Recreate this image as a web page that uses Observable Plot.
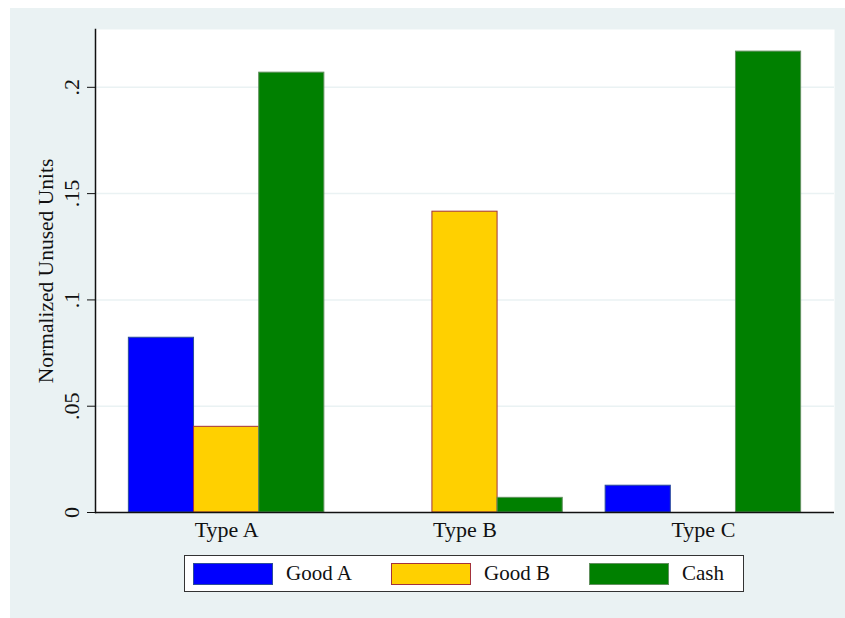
<!DOCTYPE html>
<html>
<head>
<meta charset="utf-8">
<script src="https://cdn.jsdelivr.net/npm/d3@7"></script>
<script src="https://cdn.jsdelivr.net/npm/@observablehq/plot@0.6"></script>
<style>
  html, body { margin: 0; padding: 0; background: #ffffff; }
  #wrap { position: relative; width: 845px; height: 618px; overflow: hidden; font-family: "Liberation Serif", "Times New Roman", serif; }
  #bg { position: absolute; left: 10px; top: 8px; right: 0; bottom: 0; background: #EAF2F3; }
  #chart { position: absolute; left: 0; top: 0; }
  #legend { position: absolute; left: 184px; top: 555px; width: 550px; height: 35px; background: #fff; border: 1.5px solid #333; display: flex; align-items: center; padding-left: 8px; box-sizing: content-box; }
  .item { display: flex; align-items: center; width: 198px; flex: none; }
  .sw { width: 80px; height: 22px; box-sizing: border-box; border: 1px solid; margin-right: 13px; flex: none; }
  .lab { font-size: 21px; color: #111; white-space: nowrap; }
  .item:last-child { width: auto; }
</style>
</head>
<body>
<div id="wrap">
  <div id="bg"></div>
  <div id="chart"></div>
  <div id="legend"></div>
</div>
<script>
// ---- data ----
const types = ["Type A", "Type B", "Type C"];
const goods = ["Good A", "Good B", "Cash"];
const goodA = [0.0822, 0, 0.0126];
const goodB = [0.0403, 0.1415, 0];
const cash  = [0.2069, 0.0069, 0.2168];
const yTicks = [0, 0.05, 0.1, 0.15, 0.2];
const yTickLabels = ["0", ".05", ".1", ".15", ".2"];
const yTitle = "Normalized Unused Units";
const fills = ["#0000FF", "#FFD000", "#008000"];
const strokes = ["#2B4C9B", "#A3323C", "#62905F"];
const bgColor = "#EAF2F3";

const series = [goodA, goodB, cash];
const rows = [];
goods.forEach((g, gi) => types.forEach((t, ti) => rows.push({type: t, good: g, value: series[gi][ti]})));

// ---- layout ----
const W = 845, H = 618, mL = 95, mR = 11, mT = 29, mB = 106;
const pIn = 0.18, pOut = 0.14;
const step = (W - mL - mR) / (types.length - pIn + 2 * pOut);
const bw = step * (1 - pIn);
const third = bw / goods.length;

const barMarks = goods.map((g, gi) => Plot.barY(rows.filter(r => r.good === g), {
  x: "type", y: "value",
  fill: fills[gi], stroke: strokes[gi], strokeWidth: 1,
  insetLeft: gi * third, insetRight: (goods.length - 1 - gi) * third
}));

const plot = Plot.plot({
  width: W, height: H,
  marginLeft: mL, marginRight: mR, marginTop: mT, marginBottom: mB,
  style: {background: "transparent", fontFamily: "'Liberation Serif', 'Times New Roman', serif", fontSize: "20px", color: "#111"},
  x: {type: "band", domain: types, paddingInner: pIn, paddingOuter: pOut, round: false, axis: null},
  y: {domain: [0, 0.2272], axis: null},
  marks: [
    Plot.frame({fill: "white", stroke: null}),
    Plot.gridY(yTicks.filter(d => d > 0), {stroke: bgColor, strokeOpacity: 1, strokeWidth: 1.5}),
    ...barMarks,
    Plot.axisY({ticks: yTicks, tickFormat: d => yTickLabels[yTicks.indexOf(d)], tickSize: 8, tickPadding: 9, tickRotate: -90, fontSize: 22, label: null, stroke: "#111"}),
    Plot.axisX({tickSize: 0, tickPadding: 9, fontSize: 22, label: null}),
    Plot.ruleY([0], {stroke: "#111", strokeWidth: 1.5}),
    Plot.frame({anchor: "left", stroke: "#111", strokeWidth: 1.5}),
    Plot.text([yTitle], {text: d => d, frameAnchor: "left", dx: -43, rotate: -90, textAnchor: "middle", lineAnchor: "bottom", fontSize: 21.5, fill: "#111"})
  ]
});
document.getElementById("chart").appendChild(plot);

// ---- legend ----
const legend = document.getElementById("legend");
goods.forEach((g, gi) => {
  const it = document.createElement("div");
  it.className = "item";
  const sw = document.createElement("div");
  sw.className = "sw";
  sw.style.background = fills[gi];
  sw.style.borderColor = strokes[gi];
  const lab = document.createElement("span");
  lab.className = "lab";
  lab.textContent = g;
  it.appendChild(sw); it.appendChild(lab);
  legend.appendChild(it);
});
</script>
</body>
</html>
